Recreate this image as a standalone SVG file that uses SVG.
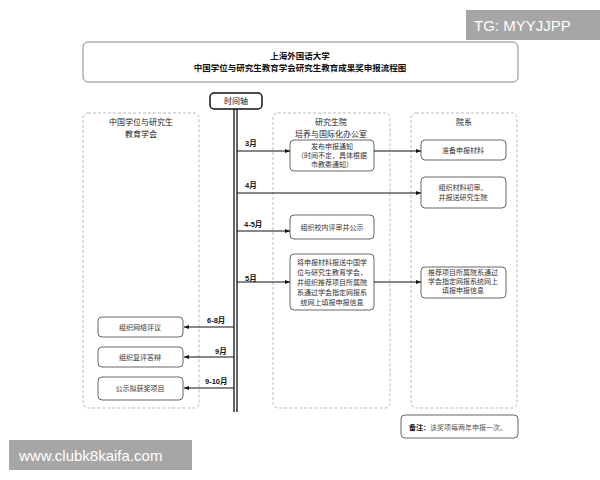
<svg xmlns="http://www.w3.org/2000/svg" width="600" height="480" viewBox="0 0 600 480">
<defs>
<marker id="ah" viewBox="0 0 10 10" refX="10" refY="5" markerWidth="5" markerHeight="5" orient="auto"><path d="M0,1 L10,5 L0,9 z" fill="#111"/></marker>
<style>
text{font-family:"Liberation Sans","Noto Sans CJK SC",sans-serif;}
.lane{fill:none;stroke:#bbb;stroke-width:1;stroke-dasharray:3,2;}
.box{fill:#fff;stroke:#666;stroke-width:1;}
.bt{font-size:7px;fill:#333;text-anchor:middle;}
.lt{font-size:8px;fill:#222;text-anchor:middle;}
.ml{font-size:7.5px;font-weight:bold;fill:#111;}
.ar{stroke:#111;stroke-width:1;fill:none;marker-end:url(#ah);}
.wm{fill:#a6a6a6;}
.wt{fill:#fff;font-size:15px;}
</style>
</defs>
<rect width="600" height="480" fill="#fff"/>
<g id="title">
<rect x="83" y="42" width="435" height="40" rx="5" fill="#fff" stroke="#888" stroke-width="1"/>
<text x="300" y="59" font-size="8.5" font-weight="bold" text-anchor="middle" fill="#111">上海外国语大学</text>
<text x="300" y="71" font-size="8.5" font-weight="bold" text-anchor="middle" fill="#111">中国学位与研究生教育学会研究生教育成果奖申报流程图</text>
</g>
<g id="lanes">
<rect class="lane" x="83" y="113" width="116" height="295" rx="5"/>
<text class="lt" x="141" y="125">中国学位与研究生</text>
<text class="lt" x="141" y="137">教育学会</text>
<rect class="lane" x="273" y="113" width="117" height="295" rx="5"/>
<text class="lt" x="331" y="125">研究生院</text>
<text class="lt" x="331" y="137">培养与国际化办公室</text>
<rect class="lane" x="411" y="113" width="106" height="295" rx="5"/>
<text class="lt" x="464" y="125">院系</text>
</g>
<g id="timeline">
<rect x="210" y="93" width="52" height="16" rx="4" fill="#fff" stroke="#111" stroke-width="1.5"/>
<text x="236" y="104" font-size="8" text-anchor="middle" fill="#111">时间轴</text>
<line x1="234" y1="109" x2="234" y2="412" stroke="#111" stroke-width="1.3"/>
<line x1="237" y1="109" x2="237" y2="412" stroke="#111" stroke-width="1.3"/>
</g>
<g id="n1"><rect class="box" x="290" y="140" width="84" height="31" rx="4"/>
<text class="bt" x="332" y="149">发布申报通知</text><text class="bt" x="332" y="158">（时间不定，具体根据</text><text class="bt" x="332" y="167">市教委通知）</text></g>
<g id="n2"><rect class="box" x="421" y="140" width="85" height="20" rx="4"/>
<text class="bt" x="463" y="153">准备申报材料</text></g>
<g id="n3"><rect class="box" x="421" y="177" width="85" height="31" rx="4"/>
<text class="bt" x="463" y="190">组织材料初审、</text><text class="bt" x="463" y="200">并报送研究生院</text></g>
<g id="n4"><rect class="box" x="290" y="215" width="84" height="24" rx="4"/>
<text class="bt" x="332" y="230">组织校内评审并公示</text></g>
<g id="n5"><rect class="box" x="290" y="254" width="84" height="56" rx="4"/>
<text class="bt" x="332" y="265">将申报材料报送中国学</text><text class="bt" x="332" y="275">位与研究生教育学会，</text><text class="bt" x="332" y="285">并组织推荐项目所属院</text><text class="bt" x="332" y="295">系通过学会指定网报系</text><text class="bt" x="332" y="305">统网上填报申报信息</text></g>
<g id="n6"><rect class="box" x="421" y="267" width="85" height="31" rx="4"/>
<text class="bt" x="463" y="275">推荐项目所属院系通过</text><text class="bt" x="463" y="284">学会指定网报系统网上</text><text class="bt" x="463" y="293">填报申报信息</text></g>
<g id="n7"><rect class="box" x="98" y="317" width="85" height="20" rx="4"/>
<text class="bt" x="140" y="330">组织网络评议</text></g>
<g id="n8"><rect class="box" x="98" y="347" width="85" height="20" rx="4"/>
<text class="bt" x="140" y="360">组织复评答辩</text></g>
<g id="n9"><rect class="box" x="98" y="377" width="85" height="23" rx="4"/>
<text class="bt" x="140" y="391">公示拟获奖项目</text></g>
<g id="note"><rect class="box" x="401" y="415" width="117" height="23" rx="4"/>
<text x="409" y="430" font-size="7" fill="#111"><tspan font-weight="bold">备注：</tspan><tspan fill="#555">该奖项每两年申报一次。</tspan></text></g>
<g id="connectors">
<line class="ar" x1="237" y1="151" x2="290" y2="151"/>
<line class="ar" x1="374" y1="151" x2="421" y2="151"/>
<line class="ar" x1="237" y1="193" x2="421" y2="193"/>
<line class="ar" x1="237" y1="231" x2="290" y2="231"/>
<line class="ar" x1="237" y1="282" x2="290" y2="282"/>
<line class="ar" x1="374" y1="282" x2="421" y2="282"/>
<line class="ar" x1="234" y1="327" x2="184" y2="327"/>
<line class="ar" x1="234" y1="357" x2="184" y2="357"/>
<line class="ar" x1="234" y1="388" x2="184" y2="388"/>
<text class="ml" x="245" y="146">3月</text>
<text class="ml" x="245" y="188">4月</text>
<text class="ml" x="244" y="227">4-5月</text>
<text class="ml" x="245" y="281">5月</text>
<text class="ml" x="207" y="323">6-8月</text>
<text class="ml" x="215" y="354">9月</text>
<text class="ml" x="205" y="384">9-10月</text>
</g>
<g id="watermarks">
<rect class="wm" x="466" y="10" width="134" height="30"/>
<text class="wt" x="474" y="31">TG: MYYJJPP</text>
<rect class="wm" x="9" y="440" width="183" height="30"/>
<text class="wt" x="19" y="461">www.clubk8kaifa.com</text>
</g>
</svg>
